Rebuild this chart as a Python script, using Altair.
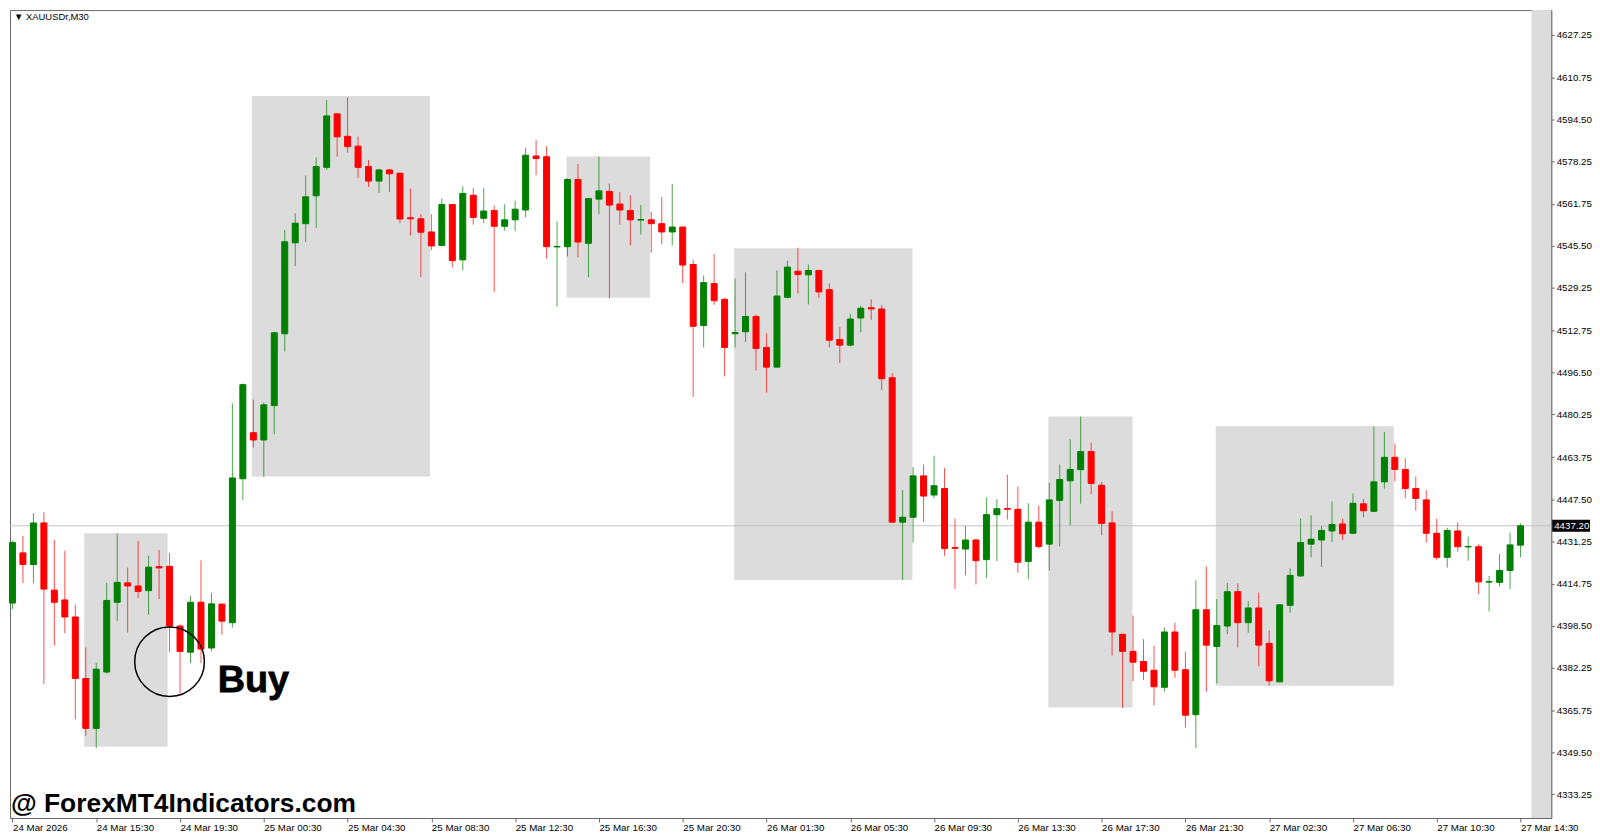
import altair as alt
import pandas as pd

# ---------------- data (XAUUSDr, M30) ----------------
opens = [4407.3, 4426.7, 4422.2, 4438.3, 4412.3, 4408.5, 4401.9, 4378.1, 4358.8, 4380.6,
         4407.6, 4415.1, 4413.9, 4412.1, 4421.4, 4421.5, 4398.4, 4388.3, 4407.6, 4389.9,
         4406.9, 4399.7, 4455.4, 4473.2, 4470.4, 4483.7, 4511.5, 4546.7, 4554.1, 4564.9,
         4575.9, 4596.6, 4587.9, 4584.1, 4576.2, 4570.6, 4574.9, 4573.6, 4556.4, 4556.0,
         4550.9, 4545.7, 4561.5, 4540.1, 4565.1, 4556.2, 4559.2, 4553.1, 4555.6, 4559.4,
         4580.3, 4580.0, 4545.1, 4545.2, 4571.2, 4546.5, 4563.6, 4566.6, 4561.7, 4559.2,
         4555.5, 4555.6, 4554.1, 4550.9, 4552.8, 4538.3, 4514.7, 4530.9, 4524.8, 4511.5,
         4512.3, 4518.2, 4506.2, 4498.6, 4525.6, 4535.7, 4534.3, 4536.0, 4528.6, 4509.3,
         4507.1, 4517.6, 4521.6, 4521.1, 4494.5, 4438.6, 4440.5, 4456.5, 4449.1, 4451.6,
         4428.8, 4428.2, 4431.7, 4424.1, 4441.5, 4443.9, 4443.6, 4423.4, 4438.6, 4430.1,
         4447.0, 4454.6, 4458.9, 4465.9, 4452.9, 4438.3, 4395.2, 4388.6, 4384.7, 4381.3,
         4374.7, 4396.1, 4381.5, 4364.1, 4404.7, 4390.5, 4398.4, 4411.7, 4399.7, 4405.4,
         4391.7, 4376.8, 4406.4, 4417.8, 4430.1, 4431.7, 4435.2, 4437.9, 4434.3, 4445.7,
         4442.8, 4454.2, 4463.7, 4459.0, 4451.6, 4447.2, 4434.3, 4425.0, 4435.2, 4429.0,
         4429.1, 4415.4, 4415.3, 4419.9, 4429.7]
highs = [4431.5, 4433.3, 4442.1, 4442.4, 4431.7, 4427.6, 4406.6, 4390.2, 4384.2, 4415.1,
         4434.3, 4421.0, 4431.4, 4425.6, 4427.8, 4426.7, 4399.0, 4410.1, 4423.8, 4411.3,
         4407.0, 4484.6, 4492.3, 4486.1, 4484.9, 4512.2, 4551.6, 4558.1, 4572.7, 4579.7,
         4601.9, 4596.8, 4603.0, 4587.7, 4578.7, 4575.3, 4575.3, 4574.0, 4567.7, 4557.8,
         4557.8, 4563.9, 4561.6, 4568.6, 4567.9, 4568.0, 4561.1, 4561.6, 4563.0, 4583.5,
         4586.4, 4584.1, 4555.0, 4571.7, 4577.2, 4564.0, 4580.1, 4569.6, 4566.4, 4565.1,
         4561.3, 4558.8, 4564.5, 4569.5, 4553.0, 4540.2, 4534.1, 4542.3, 4525.4, 4532.8,
         4535.3, 4518.9, 4511.6, 4536.0, 4539.8, 4544.8, 4538.3, 4536.2, 4530.9, 4514.2,
         4519.1, 4522.4, 4524.8, 4522.7, 4496.3, 4451.0, 4459.9, 4460.9, 4464.3, 4459.5,
         4440.0, 4437.1, 4432.2, 4448.1, 4447.5, 4457.0, 4452.3, 4445.9, 4445.0, 4453.8,
         4460.9, 4470.7, 4479.5, 4469.4, 4454.2, 4442.8, 4395.4, 4402.4, 4393.3, 4390.8,
         4397.8, 4399.7, 4388.5, 4416.1, 4421.5, 4408.8, 4415.1, 4414.9, 4408.1, 4411.3,
         4396.7, 4406.8, 4420.8, 4440.0, 4441.2, 4437.1, 4446.6, 4440.0, 4449.7, 4447.6,
         4475.7, 4473.5, 4469.0, 4463.3, 4456.3, 4451.0, 4440.0, 4436.4, 4438.6, 4433.0,
         4430.1, 4417.8, 4426.3, 4434.5, 4438.1]
lows = [4405.0, 4415.1, 4414.9, 4375.9, 4390.8, 4395.6, 4362.3, 4355.9, 4351.2, 4380.0,
        4400.3, 4395.9, 4409.2, 4402.8, 4408.8, 4388.3, 4372.4, 4384.1, 4384.1, 4388.6,
        4395.0, 4397.8, 4447.2, 4467.5, 4456.1, 4472.6, 4504.6, 4537.6, 4547.0, 4552.4,
        4574.9, 4580.1, 4581.6, 4571.8, 4568.3, 4566.0, 4566.4, 4554.3, 4549.5, 4533.4,
        4543.8, 4545.5, 4537.2, 4536.0, 4553.7, 4554.3, 4527.7, 4551.4, 4551.2, 4556.6,
        4573.0, 4540.6, 4522.0, 4541.4, 4541.0, 4533.4, 4557.8, 4525.2, 4553.7, 4545.7,
        4549.9, 4542.9, 4546.1, 4545.7, 4531.1, 4487.1, 4506.2, 4522.7, 4495.0, 4506.2,
        4508.3, 4497.3, 4488.8, 4498.4, 4525.2, 4527.1, 4522.9, 4525.4, 4506.2, 4500.2,
        4506.6, 4512.1, 4516.9, 4489.7, 4438.4, 4416.2, 4430.7, 4438.7, 4447.8, 4425.6,
        4412.7, 4418.0, 4414.5, 4417.0, 4423.5, 4439.6, 4419.0, 4416.5, 4428.4, 4419.9,
        4429.2, 4437.3, 4445.7, 4449.4, 4433.5, 4387.0, 4366.7, 4377.1, 4377.5, 4367.7,
        4373.0, 4378.4, 4359.1, 4351.2, 4373.0, 4376.2, 4395.2, 4390.1, 4395.8, 4382.8,
        4375.3, 4376.6, 4403.5, 4417.4, 4425.0, 4421.2, 4431.0, 4431.7, 4434.1, 4440.5,
        4442.6, 4451.6, 4454.4, 4447.8, 4443.0, 4430.7, 4424.0, 4421.0, 4427.2, 4423.7,
        4410.8, 4404.1, 4413.6, 4412.7, 4425.0]
closes = [4430.7, 4422.2, 4438.3, 4412.7, 4407.6, 4401.9, 4378.1, 4358.8, 4381.7, 4408.3,
          4415.3, 4413.9, 4411.8, 4421.2, 4420.9, 4398.4, 4388.6, 4407.6, 4389.5, 4407.0,
          4400.3, 4455.7, 4491.8, 4470.4, 4484.0, 4511.9, 4547.1, 4554.3, 4564.5, 4576.2,
          4595.8, 4587.7, 4583.9, 4575.9, 4570.6, 4574.9, 4573.4, 4555.9, 4556.0, 4550.8,
          4545.5, 4561.5, 4539.8, 4565.8, 4556.5, 4559.0, 4553.1, 4555.6, 4559.7, 4580.6,
          4579.3, 4545.2, 4545.3, 4571.2, 4547.0, 4563.8, 4566.8, 4561.3, 4559.4, 4555.6,
          4555.7, 4554.1, 4550.9, 4552.8, 4538.1, 4514.4, 4531.3, 4524.3, 4506.2, 4512.0,
          4518.2, 4505.8, 4498.6, 4526.1, 4537.3, 4534.4, 4536.0, 4527.7, 4509.0, 4507.1,
          4517.2, 4521.4, 4521.1, 4494.1, 4438.6, 4440.5, 4456.5, 4448.7, 4452.7, 4428.4,
          4428.5, 4431.7, 4423.7, 4441.5, 4443.8, 4443.6, 4423.1, 4438.6, 4429.2, 4447.2,
          4455.1, 4459.0, 4465.9, 4453.6, 4438.1, 4396.1, 4388.6, 4384.4, 4380.9, 4374.9,
          4396.1, 4381.3, 4363.9, 4404.7, 4391.0, 4398.6, 4411.7, 4399.7, 4405.4, 4391.0,
          4377.2, 4406.6, 4418.0, 4430.7, 4432.0, 4435.4, 4437.7, 4434.1, 4445.9, 4443.0,
          4454.2, 4463.7, 4459.0, 4451.6, 4447.8, 4434.3, 4425.0, 4435.4, 4429.1, 4429.2,
          4415.5, 4415.6, 4419.9, 4429.8, 4437.2]

# time-axis labels (one every 8 bars) and their bar positions
x_tick_index = [0, 8, 16, 24, 32, 40, 48, 56, 64, 72, 80, 88, 96, 104, 112, 120, 128, 136, 144]
x_tick_labels = ["24 Mar 2026", "24 Mar 15:30", "24 Mar 19:30", "25 Mar 00:30", "25 Mar 04:30",
                 "25 Mar 08:30", "25 Mar 12:30", "25 Mar 16:30", "25 Mar 20:30", "26 Mar 01:30",
                 "26 Mar 05:30", "26 Mar 09:30", "26 Mar 13:30", "26 Mar 17:30", "26 Mar 21:30",
                 "27 Mar 02:30", "27 Mar 06:30", "27 Mar 10:30", "27 Mar 14:30"]

# price-axis labels
y_tick_values = [4627.25, 4610.75, 4594.50, 4578.25, 4561.75, 4545.50, 4529.25, 4512.75,
                 4496.50, 4480.25, 4463.75, 4447.50, 4431.25, 4414.75, 4398.50, 4382.25,
                 4365.75, 4349.50, 4333.25]

# grey zones (bar-index span, price span)
zone_start = [6.85, 22.85, 52.91, 68.92, 98.91, 114.9]
zone_end = [14.82, 39.87, 60.89, 85.93, 106.95, 131.9]
zone_top = [4434.3, 4603.5, 4580.1, 4544.6, 4479.5, 4475.7]
zone_bottom = [4351.7, 4456.3, 4525.4, 4416.2, 4366.9, 4375.3]

# chart-shift strip on the right
strip_start = [145.04]

# current price
last_price = [4437.20]

# buy annotation
buy_circle_index = [15.0]
buy_circle_price = [4384.6]
buy_text_index = [19.6]
buy_text_price = [4372.8]
buy_text = ["Buy"]

symbol_text = ["\u25BC XAUUSDr,M30"]
watermark_text = ["@ ForexMT4Indicators.com"]

# ---------------- chart ----------------
W, H = 1549, 812
X_DOMAIN = [-0.236, 146.93]
Y_DOMAIN = [4324.12, 4636.76]
GREEN = "#008000"
RED = "#ff0000"
ZONE = "#dcdcdc"
FONT = "Liberation Sans"

candles = pd.DataFrame({
    "idx": list(range(len(opens))),
    "open": opens, "high": highs, "low": lows, "close": closes,
})
zones = pd.DataFrame({"start": zone_start, "end": zone_end,
                      "top": zone_top, "bottom": zone_bottom})
strip = pd.DataFrame({"start": strip_start})
price_df = pd.DataFrame({"price": last_price})
circle_df = pd.DataFrame({"idx": buy_circle_index, "price": buy_circle_price})
buy_df = pd.DataFrame({"idx": buy_text_index, "price": buy_text_price, "t": buy_text})
sym_df = pd.DataFrame({"t": symbol_text})
wm_df = pd.DataFrame({"t": watermark_text})

xs = alt.Scale(domain=X_DOMAIN, nice=False, zero=False, padding=0)
ys = alt.Scale(domain=Y_DOMAIN, nice=False, zero=False, padding=0)

label_array = "[" + ",".join("'" + s + "'" for s in x_tick_labels) + "]"
index_array = "[" + ",".join(str(v) for v in x_tick_index) + "]"
x_axis = alt.Axis(values=x_tick_index, labelExpr=f"{label_array}[indexof({index_array}, datum.value)]",
                  orient="bottom", tickSize=4, labelPadding=1, labelAlign="left",
                  labelBaseline="top", labelFlush=False, labelOverlap=False, title=None)
y_axis = alt.Axis(values=y_tick_values, format=".2f", orient="right", tickSize=3,
                  labelPadding=2, labelFlush=False, labelOverlap=False, title=None)


def X(field):
    return alt.X(field, scale=xs, axis=x_axis, title=None)


def Y(field):
    return alt.Y(field, scale=ys, axis=y_axis, title=None)


up = "datum.close >= datum.open"

zone_layer = alt.Chart(zones).mark_rect(color=ZONE).encode(
    x=X("start:Q"), x2="end:Q", y=Y("top:Q"), y2="bottom:Q")

strip_layer = alt.Chart(strip).mark_rect(color=ZONE).encode(
    x=X("start:Q"), x2=alt.value(W), y=alt.value(0), y2=alt.value(H))

price_line = alt.Chart(price_df).mark_rule(color="#c4c4c4", strokeWidth=1).encode(
    y=Y("price:Q"))

wicks = alt.Chart(candles).mark_rule(strokeWidth=1, opacity=0.7).encode(
    x=X("idx:Q"), y=Y("low:Q"), y2="high:Q",
    color=alt.condition(up, alt.value(GREEN), alt.value(RED)))

bodies = alt.Chart(candles).mark_bar(width=6, strokeWidth=1).encode(
    x=X("idx:Q"), y=Y("open:Q"), y2="close:Q",
    fill=alt.condition(up, alt.value(GREEN), alt.value(RED)),
    stroke=alt.condition(up, alt.value(GREEN), alt.value(RED)))

circle = alt.Chart(circle_df).mark_point(shape="circle", filled=False, size=4900,
                                          color="black", strokeWidth=1.5, opacity=1).encode(
    x=X("idx:Q"), y=Y("price:Q"))

buy = alt.Chart(buy_df).mark_text(font=FONT, fontSize=38, fontWeight="bold", align="left",
                                  baseline="alphabetic", color="black", stroke="black",
                                  strokeWidth=0.8).encode(
    x=X("idx:Q"), y=Y("price:Q"), text="t:N")

symbol = alt.Chart(sym_df).mark_text(font=FONT, fontSize=9.5, align="left", baseline="middle",
                                     color="black").encode(
    x=alt.value(4), y=alt.value(7), text="t:N")

watermark = alt.Chart(wm_df).mark_text(font=FONT, fontSize=26.5, fontWeight="bold",
                                       align="left", baseline="alphabetic",
                                       color="black").encode(
    x=alt.value(1), y=alt.value(H - 6), text="t:N")

price_tag = alt.Chart(price_df).mark_point(
    shape="M0,-0.316L2,-0.316L2,0.316L0,0.316Z", size=1444, filled=True,
    color="black", opacity=1, strokeWidth=0).encode(
    x=alt.value(W + 1), y=Y("price:Q"))

price_tag_text = alt.Chart(price_df).mark_text(font=FONT, fontSize=9.8, align="left",
                                               baseline="middle", color="white").encode(
    x=alt.value(W + 3), y=Y("price:Q"),
    text=alt.Text("price:Q", format=".2f"))

chart = alt.layer(
    zone_layer, strip_layer, price_line, wicks, bodies, circle, buy,
    symbol, watermark, price_tag, price_tag_text
).properties(width=W, height=H, padding=0, background="white").configure_axis(
    labelFont=FONT, labelFontSize=9.8, labelColor="#000000",
    domainColor="#6a6a6a", tickColor="#6a6a6a", grid=False
).configure_view(stroke="#6a6a6a", strokeWidth=1)

chart.save("out.html", embed_options={"renderer": "svg", "actions": False})
